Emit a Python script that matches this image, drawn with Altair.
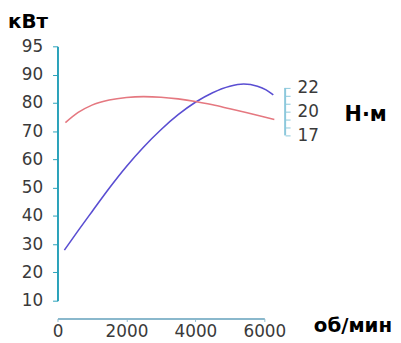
import altair as alt
import pandas as pd

# Power curve (blue), read on the left kW scale
rpm_power = [200, 600, 1000, 1500, 2000, 2500, 3000, 3500, 4000, 4500, 5000, 5400, 5800, 6050, 6260]
power_kw = [27.9, 34.8, 41.5, 49.8, 57.5, 64.4, 70.5, 75.8, 80.2, 83.6, 85.9, 86.7, 85.9, 84.6, 82.8]

# Torque curve (red), drawn against the same left scale
rpm_torque = [230, 600, 1000, 1500, 2000, 2500, 3000, 3500, 4000, 4500, 5000, 5500, 6000, 6290]
torque_pos = [73.0, 76.6, 79.2, 81.0, 81.9, 82.2, 82.0, 81.4, 80.5, 79.3, 77.9, 76.5, 75.0, 74.1]

y_ticks = [10, 20, 30, 40, 50, 60, 70, 80, 90, 100]
y_tick_labels = ["10", "20", "30", "40", "50", "60", "70", "80", "90", "95"]
x_ticks = [0, 2000, 4000, 6000]
torque_ticks = [0, 1, 2, 3, 4, 5, 6]
torque_tick_labels = ["17", "", "", "20", "", "", "22"]

series_names = ["power", "torque"]
series_colors = ["#5a4ed2", "#e57880"]

W, H = 209, 257

df = pd.concat([
    pd.DataFrame({"rpm": rpm_power, "value": power_kw, "series": "power"}),
    pd.DataFrame({"rpm": rpm_torque, "value": torque_pos, "series": "torque"}),
])

def expr_lookup(vals, labels):
    v = "[" + ",".join(str(x) for x in vals) + "]"
    l = "[" + ",".join("'" + s + "'" for s in labels) + "]"
    return f"{l}[indexof({v}, datum.value)]"

lines = alt.Chart(df).mark_line(strokeWidth=1.6, interpolate="monotone").encode(
    x=alt.X("rpm:Q", scale=alt.Scale(domain=[0, 6000], nice=False, zero=False),
            axis=alt.Axis(values=x_ticks, offset=18, domainColor="#8ab8cc", domainWidth=2,
                          tickColor="#8ab8cc", tickSize=3, labelPadding=2, title=None,
                          format="d", labelFlush=False, labelOverlap=False, grid=False)),
    y=alt.Y("value:Q", scale=alt.Scale(domain=[10, 100], nice=False, zero=False),
            axis=alt.Axis(values=y_ticks, labelExpr=expr_lookup(y_ticks, y_tick_labels),
                          domainColor="#2aa2ba", domainWidth=2, tickColor="#2aa2ba",
                          tickSize=5, labelPadding=10, title=None, grid=False,
                          labelFlush=False, labelOverlap=False)),
    color=alt.Color("series:N", scale=alt.Scale(domain=series_names, range=series_colors), legend=None),
    detail="series:N",
)

rdf = pd.DataFrame({"u0": [torque_ticks[0]], "u1": [torque_ticks[-1]]})
right_axis = alt.Chart(rdf).mark_rule(color="#8cc8dc", strokeWidth=2).encode(
    x=alt.value(W + 21),
    y=alt.Y("u0:Q", scale=alt.Scale(domain=[-20.875, 11.25], nice=False, zero=False),
            axis=alt.Axis(orient="right", offset=21, values=torque_ticks,
                          labelExpr=expr_lookup(torque_ticks, torque_tick_labels),
                          domain=False, tickSize=5, tickColor="#8cc8dc", labelPadding=7,
                          title=None, grid=False, labelFlush=False, labelOverlap=False)),
    y2="u1:Q",
)

one = pd.DataFrame({"a": [0]})
t_kw = alt.Chart(one).mark_text(text="кВт", font="DejaVu Sans", fontWeight="bold", fontSize=20,
                                align="left", baseline="alphabetic", color="#000000").encode(
    x=alt.value(-50), y=alt.value(-19))
t_nm = alt.Chart(one).mark_text(text="Н·м", font="DejaVu Sans", fontWeight="bold", fontSize=21,
                                align="left", baseline="middle", color="#000000").encode(
    x=alt.value(290), y=alt.value(69))
t_rpm = alt.Chart(one).mark_text(text="об/мин", font="DejaVu Sans", fontWeight="bold", fontSize=20,
                                 align="left", baseline="alphabetic", color="#000000").encode(
    x=alt.value(259), y=alt.value(289))

chart = alt.layer(lines, right_axis, t_kw, t_nm, t_rpm).resolve_scale(y="independent").properties(
    width=W, height=H,
    padding={"left": 0, "top": 2, "right": 0, "bottom": 0},
    background="#ffffff",
).configure_view(stroke=None).configure_axis(
    labelFont="DejaVu Sans", labelFontSize=17, labelColor="#3a3a3a"
)

chart.save("out.html", embed_options={"renderer": "svg", "actions": False})
